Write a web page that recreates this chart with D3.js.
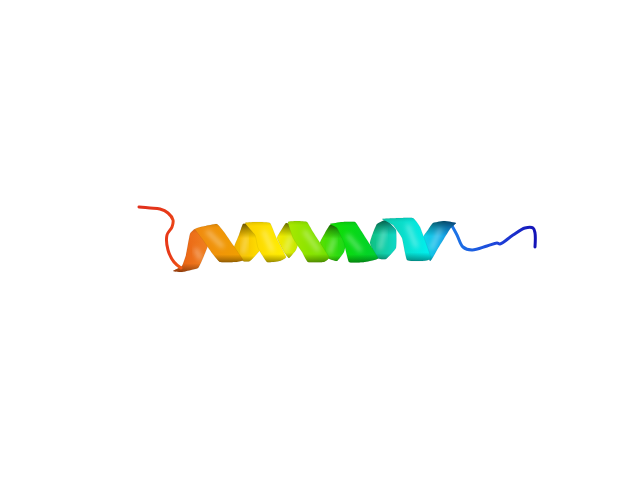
<!DOCTYPE html>
<html>
<head>
<meta charset="utf-8">
<script src="https://cdn.jsdelivr.net/npm/d3@7"></script>
<style>
  html, body { margin: 0; background: #fff; }
  svg { display: block; }
</style>
</head>
<body>
<div id="scene"></div>
<script>
var svgWidth = 640;
var svgHeight = 480;

// backbone traces (scene units)
var cTermTrace = [[139,207],[150,208],[160,209],[168,213],[173,220],[172,227],[167,235],[168,250],[174,262],[181,268]];
var nTermTrace = [[451,224],[457,235],[463,247],[472,250],[487,246],[497,243],[500,244],[513,235],[525,228],[533,228],[535,233],[535,247]];

// stops along x for the coil colours
var cTermStops = [[139,"#e0301c"],[170,"#e83a18"],[181,"#f05a14"]];
var nTermStops = [[451,"#1c78e8"],[475,"#1c5ce0"],[500,"#1e40d8"],[535,"#1414b8"]];

// helix faces turned away from the viewer, rising left to right
var backNames = ["b1","b2","b3","b4","b5"];
var backColors = [["#f0b000","#ffe000"],["#f8ea00","#c0e800"],["#58e000","#18d818"],["#10c080","#10d8c8"],["#10d8e8","#1088e8"]];
var backOutlines = [
  [[234,248],[239,235],[243,224],[250,225],[258,236],[260,250],[250,261],[243,261]],
  [[277,238],[282,229],[286,223],[291,225],[299,240],[296,250],[289,258],[284,252]],
  [[320,243],[325,233],[330,225],[337,226],[346,242],[344,252],[337,261],[328,258]],
  [[370,243],[373,233],[377,224],[386,220],[396,230],[396,248],[386,259],[376,258]],
  [[423,238],[428,230],[433,223],[444,221],[456,223],[450,229],[437,250],[430,261]]
];

// helix faces towards the viewer, top left to bottom right
var frontNames = ["f0","f1","f2","f3","f4","f5"];
var frontColors = [["#e85a10","#f08020"],["#f08a10","#f0a000"],["#fcd000","#fff000"],["#a8e800","#70e000"],["#10e000","#00d030"],["#10d0b0","#00f0f0"]];
var frontOutlines = [
  [[173,271],[182,266],[186,255],[190,234],[195,229],[202,236],[208,245],[203,258],[198,268],[182,272]],
  [[195,229],[205,226],[217,224],[224,232],[233,245],[243,260],[236,262],[220,262],[212,253],[203,240]],
  [[245,223],[258,222],[270,223],[276,237],[286,257],[280,261],[267,262],[258,248],[255,235]],
  [[288,222],[298,221],[307,222],[313,232],[329,257],[324,262],[308,262],[302,252],[293,238]],
  [[330,224],[342,222],[355,222],[360,229],[378,258],[365,262],[349,262],[344,243],[337,228]],
  [[382,219],[400,218],[413,218],[420,227],[431,258],[423,261],[407,260],[402,238],[393,225]]
];

// soft specular streaks, one per front face then one per back face
var frontShine = [[[196,250],[200,258]],[[208,232],[222,246]],[[264,232],[272,250]],[[305,232],[318,250]],[[348,236],[360,250]],[[408,226],[416,246]]];
var backShine = [[[246,238],[243,252]],[[290,238],[286,250]],[[334,240],[330,252]],[[384,232],[380,248]],[[440,230],[432,248]]];

var xScale = d3.scaleLinear().domain([0, 640]).range([0, svgWidth]);
var yScale = d3.scaleLinear().domain([0, 480]).range([0, svgHeight]);

var svg = d3.select("#scene")
  .append("svg")
  .attr("width", svgWidth)
  .attr("height", svgHeight);

var defs = svg.append("defs");

defs.append("filter").attr("id", "soft")
  .attr("x", "-100%").attr("y", "-100%").attr("width", "300%").attr("height", "300%")
  .append("feGaussianBlur").attr("stdDeviation", 2.6);

function verticalShade(id, stops) {
  var g = defs.append("linearGradient").attr("id", id)
    .attr("x1", 0).attr("x2", 0).attr("y1", 0).attr("y2", 1);
  stops.forEach(function(s) {
    g.append("stop").attr("offset", s[0]).attr("stop-color", s[1]).attr("stop-opacity", s[2]);
  });
}
verticalShade("frontShade", [[0,"#000",0.1],[0.1,"#000",0],[0.8,"#000",0],[1,"#000",0.38]]);
verticalShade("backShade", [[0,"#000",0.55],[0.18,"#000",0.25],[0.38,"#000",0],[0.85,"#000",0],[1,"#000",0.3]]);

function colorAcross(id, pair) {
  var g = defs.append("linearGradient").attr("id", id);
  g.append("stop").attr("offset", 0).attr("stop-color", pair[0]);
  g.append("stop").attr("offset", 1).attr("stop-color", pair[1]);
}

function coilGradient(id, stops) {
  var x0 = stops[0][0], x1 = stops[stops.length - 1][0];
  var g = defs.append("linearGradient").attr("id", id)
    .attr("gradientUnits", "userSpaceOnUse")
    .attr("x1", xScale(x0)).attr("x2", xScale(x1)).attr("y1", 0).attr("y2", 0);
  stops.forEach(function(s) {
    g.append("stop").attr("offset", (s[0] - x0) / (x1 - x0)).attr("stop-color", s[1]);
  });
}
coilGradient("cTermColor", cTermStops);
coilGradient("nTermColor", nTermStops);

var outline = d3.line()
  .x(function(d) { return xScale(d[0]); })
  .y(function(d) { return yScale(d[1]); })
  .curve(d3.curveCardinalClosed.tension(0.65));

var trace = d3.line()
  .x(function(d) { return xScale(d[0]); })
  .y(function(d) { return yScale(d[1]); })
  .curve(d3.curveCatmullRom.alpha(0.5));

function drawPanels(names, colors, outlines, shine, shade) {
  names.forEach(function(name, i) {
    colorAcross("fill-" + name, colors[i]);
    defs.append("clipPath").attr("id", "clip-" + name)
      .append("path").attr("d", outline(outlines[i]));

    var g = svg.append("g").attr("class", "panel");
    g.append("path").attr("d", outline(outlines[i])).attr("fill", "url(#fill-" + name + ")");
    g.append("path").attr("d", outline(outlines[i])).attr("fill", "url(#" + shade + ")");
    g.append("g").attr("clip-path", "url(#clip-" + name + ")")
      .append("path")
      .attr("d", trace(shine[i]))
      .attr("fill", "none")
      .attr("stroke", "#fff")
      .attr("stroke-opacity", 0.38)
      .attr("stroke-width", 4)
      .attr("stroke-linecap", "round")
      .attr("filter", "url(#soft)");
    g.append("path").attr("d", outline(outlines[i]))
      .attr("fill", "none")
      .attr("stroke", "#000")
      .attr("stroke-opacity", 0.12)
      .attr("stroke-width", 0.5);
  });
}

function drawCoil(points, gradientId) {
  svg.append("path")
    .attr("d", trace(points))
    .attr("fill", "none")
    .attr("stroke", "url(#" + gradientId + ")")
    .attr("stroke-width", 3)
    .attr("stroke-linecap", "round")
    .attr("stroke-linejoin", "round");
}

drawCoil(nTermTrace, "nTermColor");
drawPanels(backNames, backColors, backOutlines, backShine, "backShade");
drawPanels(frontNames, frontColors, frontOutlines, frontShine, "frontShade");
drawCoil(cTermTrace, "cTermColor");
</script>
</body>
</html>
